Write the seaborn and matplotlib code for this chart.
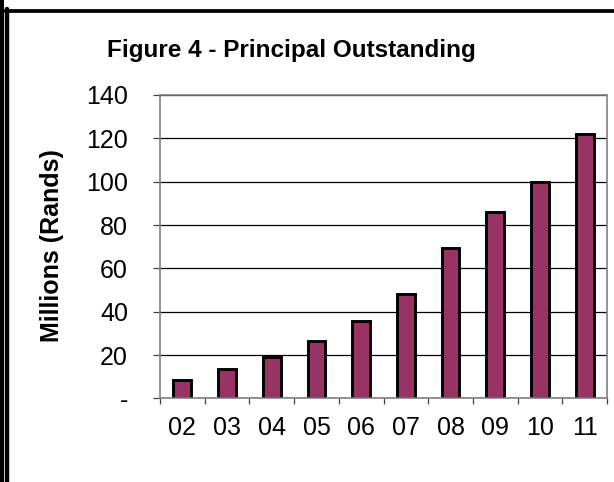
"""Figure 4 - Principal Outstanding, bar chart redrawn with seaborn."""

import matplotlib
matplotlib.use("Agg")
import matplotlib.pyplot as plt
from matplotlib.lines import Line2D
import seaborn as sns

years = ["02", "03", "04", "05", "06", "07", "08", "09", "10", "11"]
principal = [8.5, 13.6, 19.0, 26.3, 35.9, 48.2, 69.3, 86.2, 99.7, 122.2]
y_ticks = [0, 20, 40, 60, 80, 100, 120, 140]
y_tick_labels = ["-", "20", "40", "60", "80", "100", "120", "140"]

W, H = 614, 482

sns.set_style("white")
plt.rcParams["font.family"] = ["Liberation Sans", "DejaVu Sans"]
plt.rcParams["text.color"] = "black"
plt.rcParams["xtick.labelcolor"] = "black"
plt.rcParams["ytick.labelcolor"] = "black"

fig = plt.figure(figsize=(W / 100, H / 100), dpi=100)
ax = fig.add_axes([160 / W, 1 - 398.4 / H, 447 / W, 303.4 / H])

sns.barplot(x=years, y=principal, color="#993366", saturation=1,
            edgecolor="black", linewidth=2.1, width=0.4, ax=ax)

ax.set_xlim(-0.5, len(years) - 0.5)
ax.set_ylim(0, 140)
ax.set_yticks(y_ticks)
ax.set_yticklabels(y_tick_labels)
ax.set_xlabel("")
ax.set_ylabel("")
ax.yaxis.grid(True, color="black", linewidth=0.9)
ax.set_axisbelow(True)

for side in ["left", "right", "top", "bottom"]:
    ax.spines[side].set_visible(True)
    ax.spines[side].set_color("#808080")
    ax.spines[side].set_linewidth(1.2)

ax.tick_params(axis="y", left=True, length=5, width=0.9, color="#404040",
               pad=18, labelsize=18, labelcolor="black")
ax.set_xticks([i - 0.5 for i in range(len(years) + 1)], minor=True)
ax.tick_params(axis="x", which="major", length=0, pad=13, labelsize=18,
               labelcolor="black")
ax.tick_params(axis="x", which="minor", bottom=True, length=4.5, width=0.9,
               color="#404040")

fig.text(291 / W, 1 - 57 / H, "Figure 4 - Principal Outstanding",
         ha="center", va="baseline", fontsize=17.5, fontweight="bold",
         color="black")
fig.text(52 / W, 1 - 246 / H, "Millions (Rands)", ha="center", va="center",
         rotation=90, fontsize=18, fontweight="bold", color="black")

# double border on the left, single line across the top
fig.add_artist(Line2D([2 / W, 2 / W], [0, 1], color="black", linewidth=2.9))
fig.add_artist(Line2D([7.3 / W, 7.3 / W], [0, 1 - 9 / H], color="black",
                      linewidth=3.2))
fig.add_artist(Line2D([5 / W, 1], [1 - 10.8 / H, 1 - 10.8 / H], color="black",
                      linewidth=2.7))

fig.savefig("out.png", dpi=100)
